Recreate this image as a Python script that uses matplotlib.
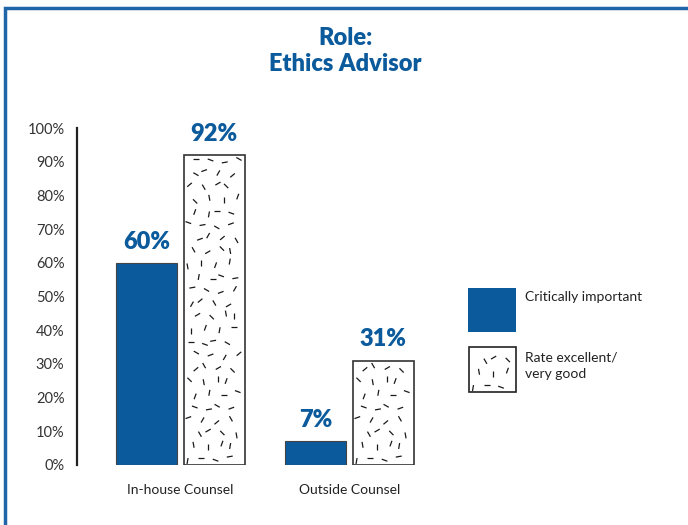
import numpy as np
import matplotlib
matplotlib.use("Agg")
import matplotlib.pyplot as plt
from matplotlib.patches import Rectangle
from matplotlib.collections import LineCollection
from matplotlib.transforms import IdentityTransform

# ---- data ----
categories = ["In-house Counsel", "Outside Counsel"]
critically_important = [60, 7]
rate_excellent = [92, 31]
series_names = ["Critically important", "Rate excellent/\nvery good"]
yticks = [0, 10, 20, 30, 40, 50, 60, 70, 80, 90, 100]
title = "Role:\nEthics Advisor"

BLUE = "#0B5A9C"
BORDER = "#1F65A8"
GRAY = "#333333"
FONT = ["Lato", "DejaVu Sans"]
plt.rcParams["font.family"] = FONT

W, H = 688, 525
fig = plt.figure(figsize=(W / 100, H / 100), dpi=100)

def fx(px):
    return px / W

def fy(py):
    return 1 - py / H

# outer frame (left and top edges visible)
fig.patches.append(Rectangle((fx(5), fy(600)), fx(800), fy(8) - fy(600),
                             transform=fig.transFigure, fill=False,
                             edgecolor=BORDER, linewidth=2.5))

ax_left, ax_right, ax_top, ax_bot = 77, 450, 128, 465
ax = fig.add_axes([fx(ax_left), fy(ax_bot), fx(ax_right - ax_left), fy(ax_top) - fy(ax_bot)])
group_px = 169.0
x0 = -(180.5 - ax_left) / group_px
ax.set_xlim(x0, x0 + (ax_right - ax_left) / group_px)
ax.set_ylim(0, 100)

x = np.arange(len(categories))
bw = 0.364
off = 0.2
bars1 = ax.bar(x - off, critically_important, bw, color=BLUE, edgecolor="#444444", linewidth=0.8)
bars2 = ax.bar(x + off, rate_excellent, bw, color="white", edgecolor="#333333", linewidth=1.2)

for b, v in zip(bars1, critically_important):
    ax.text(b.get_x() + b.get_width() / 2, v + 3, f"{v}%", ha="center", va="bottom",
            fontsize=17, fontweight="heavy", color=BLUE)
for b, v in zip(bars2, rate_excellent):
    ax.text(b.get_x() + b.get_width() / 2, v + 3, f"{v}%", ha="center", va="bottom",
            fontsize=17, fontweight="heavy", color=BLUE)

for s in ["top", "right", "bottom"]:
    ax.spines[s].set_visible(False)
ax.spines["left"].set_linewidth(1.6)
ax.spines["left"].set_color("#222222")
ax.set_yticks(yticks)
ax.set_yticklabels([f"{t}%" for t in yticks], fontsize=10.5, color=GRAY)
ax.tick_params(axis="y", length=0, pad=9)
ax.set_xticks(x)
ax.set_xticklabels(categories, fontsize=10, color="#222222")
ax.tick_params(axis="x", length=0, pad=14)

fig.text(fx(345), fy(51), title, ha="center", va="center", fontsize=17,
         fontweight="heavy", color=BLUE, linespacing=1.2)

# ---- texture of short dashes (decorative) ----
angles_cycle = [80, 20, 135, 0, 60, 100, 160, 40, 90, 10, 120, 70, 150, 30]

def texture(patch, x_disp0, y_disp0, x_disp1, y_disp1, target):
    segs = []
    step = 13.0
    L = 6.0
    yy = y_disp0 + 6
    row = 0
    while yy < y_disp1 - 4:
        xx = x_disp0 + 6 + (row % 3) * 4
        col = 0
        while xx < x_disp1 - 5:
            a = np.deg2rad(angles_cycle[(row * 5 + col * 3) % len(angles_cycle)])
            jx = ((row * 7 + col * 11) % 5 - 2) * 1.2
            jy = ((row * 3 + col * 13) % 5 - 2) * 1.2
            cx = min(max(xx + jx, x_disp0 + 4), x_disp1 - 4)
            cy = min(max(yy + jy, y_disp0 + 4), y_disp1 - 4)
            dx, dy = np.cos(a) * L / 2, np.sin(a) * L / 2
            segs.append([(cx - dx, cy - dy), (cx + dx, cy + dy)])
            xx += step
            col += 1
        yy += step
        row += 1
    lc = LineCollection(segs, colors="#1a1a1a", linewidths=0.9, transform=IdentityTransform())
    target.add_artist(lc)
    lc.set_clip_path(patch)

for b in bars2:
    (dx0, dy0), (dx1, dy1) = ax.transData.transform(
        [(b.get_x(), 0), (b.get_x() + b.get_width(), b.get_height())])
    texture(b, dx0, dy0, dx1, dy1, ax)
    b.set_zorder(1)

# ---- legend ----
lg1 = Rectangle((fx(468), fy(332)), fx(48), fy(288) - fy(332), transform=fig.transFigure,
                facecolor=BLUE, edgecolor="none")
lg2 = Rectangle((fx(469), fy(392)), fx(47), fy(347) - fy(392), transform=fig.transFigure,
                facecolor="white", edgecolor="#222222", linewidth=1.2)
fig.patches.extend([lg1, lg2])
texture(lg2, 469, H - 392, 516, H - 347, fig)
fig.text(fx(525), fy(297), series_names[0], ha="left", va="center", fontsize=10, color="#222222")
fig.text(fx(525), fy(366), series_names[1], ha="left", va="center", fontsize=10,
         color="#222222", linespacing=1.45)

fig.savefig("out.png", dpi=100)
